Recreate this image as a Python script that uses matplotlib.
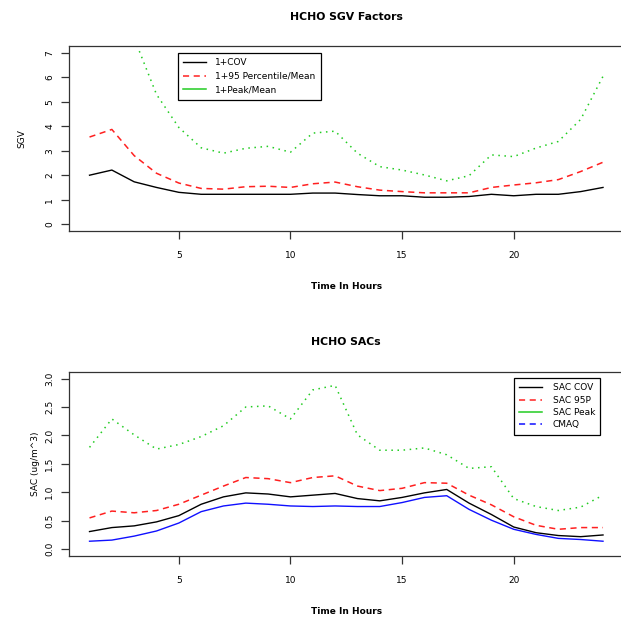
import numpy as np
import matplotlib
matplotlib.use('Agg')
import matplotlib.pyplot as plt
from matplotlib.lines import Line2D

# Setting plot parameters
plt.rcParams['font.family'] = 'DejaVu Sans'
plt.rcParams['font.size'] = 6.5
plt.rcParams['axes.linewidth'] = 0.9
plt.rcParams['axes.edgecolor'] = '#333333'

hours = np.arange(1, 25)

# top panel: SGV factors
sgv_cov = [2.0, 2.21, 1.73, 1.50, 1.30, 1.22, 1.22, 1.22, 1.22, 1.22, 1.27, 1.27,
           1.21, 1.16, 1.16, 1.10, 1.10, 1.13, 1.22, 1.16, 1.22, 1.22, 1.33, 1.50]
sgv_p95 = [3.56, 3.87, 2.80, 2.08, 1.68, 1.46, 1.43, 1.53, 1.55, 1.50, 1.65, 1.72,
           1.53, 1.39, 1.33, 1.28, 1.28, 1.28, 1.50, 1.60, 1.69, 1.82, 2.15, 2.53]
sgv_peak = [9.5, 10.5, 7.6, 5.3, 3.95, 3.12, 2.90, 3.10, 3.18, 2.94, 3.72, 3.80,
            2.90, 2.35, 2.21, 2.01, 1.77, 1.98, 2.83, 2.76, 3.11, 3.38, 4.28, 6.04]

# bottom panel: SACs
sac_cov = [0.31, 0.38, 0.41, 0.48, 0.59, 0.79, 0.92, 0.99, 0.97, 0.92, 0.95, 0.98,
           0.89, 0.85, 0.91, 0.99, 1.05, 0.81, 0.61, 0.39, 0.29, 0.24, 0.22, 0.25]
sac_95p = [0.55, 0.67, 0.64, 0.68, 0.79, 0.95, 1.11, 1.26, 1.24, 1.17, 1.26, 1.29,
           1.11, 1.03, 1.07, 1.17, 1.16, 0.95, 0.78, 0.57, 0.42, 0.35, 0.38, 0.38]
sac_peak = [1.79, 2.29, 2.01, 1.76, 1.84, 1.98, 2.17, 2.50, 2.52, 2.29, 2.80, 2.88,
            2.01, 1.74, 1.74, 1.78, 1.66, 1.42, 1.45, 0.89, 0.75, 0.68, 0.74, 0.95]
cmaq = [0.14, 0.16, 0.23, 0.32, 0.46, 0.66, 0.76, 0.81, 0.79, 0.76, 0.75, 0.76,
        0.75, 0.75, 0.82, 0.91, 0.94, 0.70, 0.51, 0.35, 0.26, 0.19, 0.17, 0.14]

RED = '#ff2020'
GREEN = '#22cc22'
BLUE = '#1010ff'
DASH = (0, (4, 3))
DOT = (0, (1, 3))

fig = plt.figure(figsize=(6.21, 6.18), dpi=100)
ax1 = fig.add_axes([0.1111, 0.6262, 0.893, 0.2994])
ax2 = fig.add_axes([0.1111, 0.1003, 0.893, 0.2982])


def style(ax, ylim, yticks, yfmt):
    ax.set_xlim(0.08, 24.92)
    ax.set_ylim(*ylim)
    ax.set_xticks([5, 10, 15, 20])
    ax.set_yticks(yticks)
    ax.set_yticklabels([yfmt.format(v) for v in yticks], rotation=90, va='center')
    ax.tick_params(direction='out', length=5.5, width=0.9, color='#333333')
    ax.tick_params(axis='x', pad=9)
    ax.tick_params(axis='y', pad=5)
    ax.set_xlabel('Time In Hours', fontweight='bold', labelpad=15.5)


#### TOP PANEL ####
ax1.plot(hours, sgv_cov, color='black', lw=1.0)
ax1.plot(hours, sgv_p95, color=RED, lw=1.1, linestyle=DASH)
ax1.plot(hours, sgv_peak, color=GREEN, lw=1.1, linestyle=DOT)
style(ax1, (-0.28, 7.28), list(range(0, 8)), '{:d}')
ax1.set_ylabel('SGV', labelpad=14)
ax1.set_title('HCHO SGV Factors', fontweight='bold', pad=19)
h1 = [Line2D([], [], color='black', lw=1.0),
      Line2D([], [], color=RED, lw=1.1, linestyle=DASH),
      Line2D([], [], color=GREEN, lw=1.1)]
leg = ax1.legend(h1, ['1+COV', '1+95 Percentile/Mean', '1+Peak/Mean'],
                 loc='upper left', bbox_to_anchor=(0.1965, 0.962), borderaxespad=0,
                 fancybox=False, edgecolor='black', framealpha=1, handlelength=2.5,
                 labelspacing=0.5, borderpad=0.6, handletextpad=1.0)
leg.get_frame().set_linewidth(0.9)

#### BOTTOM PANEL ####
ax2.plot(hours, sac_cov, color='black', lw=1.0)
ax2.plot(hours, sac_95p, color=RED, lw=1.1, linestyle=DASH)
ax2.plot(hours, sac_peak, color=GREEN, lw=1.1, linestyle=DOT)
ax2.plot(hours, cmaq, color=BLUE, lw=1.0)
style(ax2, (-0.12, 3.12), [0.0, 0.5, 1.0, 1.5, 2.0, 2.5, 3.0], '{:.1f}')
ax2.set_ylabel('SAC (ug/m^3)', labelpad=4)
ax2.set_title('HCHO SACs', fontweight='bold', pad=19)
h2 = [Line2D([], [], color='black', lw=1.0),
      Line2D([], [], color=RED, lw=1.1, linestyle=DASH),
      Line2D([], [], color=GREEN, lw=1.1),
      Line2D([], [], color=BLUE, lw=1.1, linestyle=DASH)]
leg2 = ax2.legend(h2, ['SAC COV', 'SAC 95P', 'SAC Peak', 'CMAQ'],
                  loc='upper left', bbox_to_anchor=(0.802, 0.966), borderaxespad=0,
                  fancybox=False, edgecolor='black', framealpha=1, handlelength=2.5,
                  labelspacing=0.37, borderpad=0.6, handletextpad=1.2)
leg2.get_frame().set_linewidth(0.9)

fig.savefig('out.png', dpi=100)
